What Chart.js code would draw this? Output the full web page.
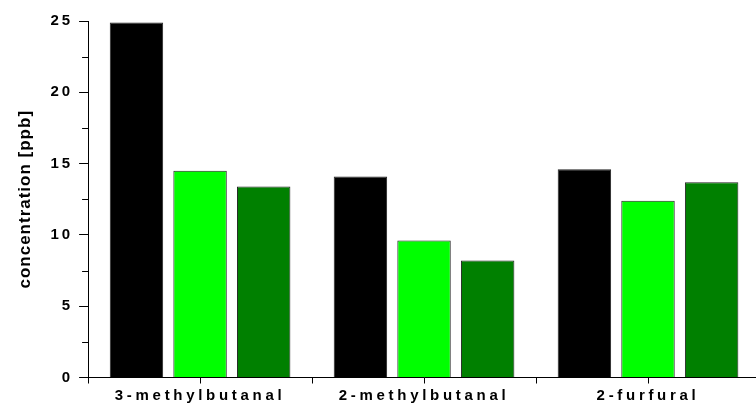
<!DOCTYPE html>
<html>
<head>
<meta charset="utf-8">
<script src="https://cdn.jsdelivr.net/npm/chart.js@4/dist/chart.umd.min.js"></script>
<style>
  html, body { margin: 0; padding: 0; background: #fff; }
  #wrap { width: 756px; height: 404px; overflow: hidden; position: relative; }
  canvas { display: block; }
</style>
</head>
<body>
<div id="wrap"><canvas id="c" width="764" height="404"></canvas></div>
<script>
// Aldehyde concentrations per compound, three samples each
const categories = ['3-methylbutanal', '2-methylbutanal', '2-furfural'];
const sampleA = [24.9, 14.1, 14.6];
const sampleB = [14.5, 9.6, 12.4];
const sampleC = [13.4, 8.2, 13.7];
const yTickLabels = [0, 5, 10, 15, 20, 25];
const yTitle = 'concentration [ppb]';

// Canvas letter spacing per scale (Chart.js has no option for it)
const letterSpacingPlugin = {
  id: 'letterSpacing',
  afterUpdate(chart, args, opts) {
    Object.values(chart.scales).forEach(scale => {
      const sp = opts[scale.id];
      if (!sp || scale.__spaced) return;
      const wrap = (name, value) => {
        const orig = scale[name];
        scale[name] = function (...a) {
          const ctx = this.ctx;
          const prev = ctx.letterSpacing;
          ctx.letterSpacing = value;
          orig.apply(this, a);
          ctx.letterSpacing = prev;
        };
      };
      wrap('drawLabels', sp.ticks || '0px');
      wrap('drawTitle', sp.title || '0px');
      scale.__spaced = true;
    });
  }
};

// Extra tick marks: category centres on x, half-step minor ticks on y
const extraTicksPlugin = {
  id: 'extraTicks',
  afterDraw(chart, args, opts) {
    const x = chart.scales.x;
    const y = chart.scales.y;
    const ctx = chart.ctx;
    ctx.save();
    ctx.strokeStyle = '#000';
    ctx.lineWidth = 1;
    ctx.beginPath();
    x.ticks.forEach((t, i) => {
      const px = Math.round(x.getPixelForTick(i)) + 0.5;
      ctx.moveTo(px, x.top);
      ctx.lineTo(px, x.top + opts.xLength);
    });
    for (let i = 0; i < y.ticks.length - 1; i++) {
      const mid = (y.ticks[i].value + y.ticks[i + 1].value) / 2;
      const py = Math.round(y.getPixelForValue(mid)) + 0.5;
      ctx.moveTo(y.right, py);
      ctx.lineTo(y.right - opts.yMinorLength, py);
    }
    ctx.stroke();
    ctx.restore();
  }
};

const barStyle = { borderColor: '#222222', borderWidth: 1, barPercentage: 0.84, categoryPercentage: 0.852 };

new Chart(document.getElementById('c'), {
  type: 'bar',
  data: {
    labels: categories,
    datasets: [
      { label: 'A', data: sampleA, backgroundColor: '#000000', ...barStyle },
      { label: 'B', data: sampleB, backgroundColor: '#00ff00', ...barStyle },
      { label: 'C', data: sampleC, backgroundColor: '#008000', ...barStyle }
    ]
  },
  options: {
    responsive: false,
    animation: false,
    layout: { padding: { top: 21, right: 4, bottom: -4.5, left: 0 } },
    plugins: {
      legend: { display: false },
      tooltip: { enabled: false },
      letterSpacing: {
        x: { ticks: '3.7px' },
        y: { ticks: '3px', title: '1px' }
      },
      extraTicks: { xLength: 6, yMinorLength: 6 }
    },
    scales: {
      x: {
        type: 'category',
        offset: true,
        grid: { offset: true, drawOnChartArea: false, tickLength: 6, color: '#000', lineWidth: 1 },
        border: { display: true, color: '#000', width: 1 },
        ticks: {
          color: '#000',
          padding: 5,
          maxRotation: 0,
          font: { family: 'Liberation Sans, Arial, sans-serif', size: 15, weight: 'bold', lineHeight: 1 }
        }
      },
      y: {
        min: 0,
        max: 25,
        grid: { drawOnChartArea: false, tickLength: 9, color: '#000', lineWidth: 1 },
        border: { display: true, color: '#000', width: 1 },
        afterBuildTicks: scale => { scale.ticks = yTickLabels.map(v => ({ value: v })); },
        ticks: {
          color: '#000',
          padding: 6,
          font: { family: 'Liberation Sans, Arial, sans-serif', size: 15, weight: 'bold' }
        },
        title: {
          display: true,
          text: yTitle,
          color: '#000',
          padding: { top: 15, bottom: 15 },
          font: { family: 'Liberation Sans, Arial, sans-serif', size: 17, weight: 'bold' }
        }
      }
    }
  },
  plugins: [letterSpacingPlugin, extraTicksPlugin]
});
</script>
</body>
</html>
